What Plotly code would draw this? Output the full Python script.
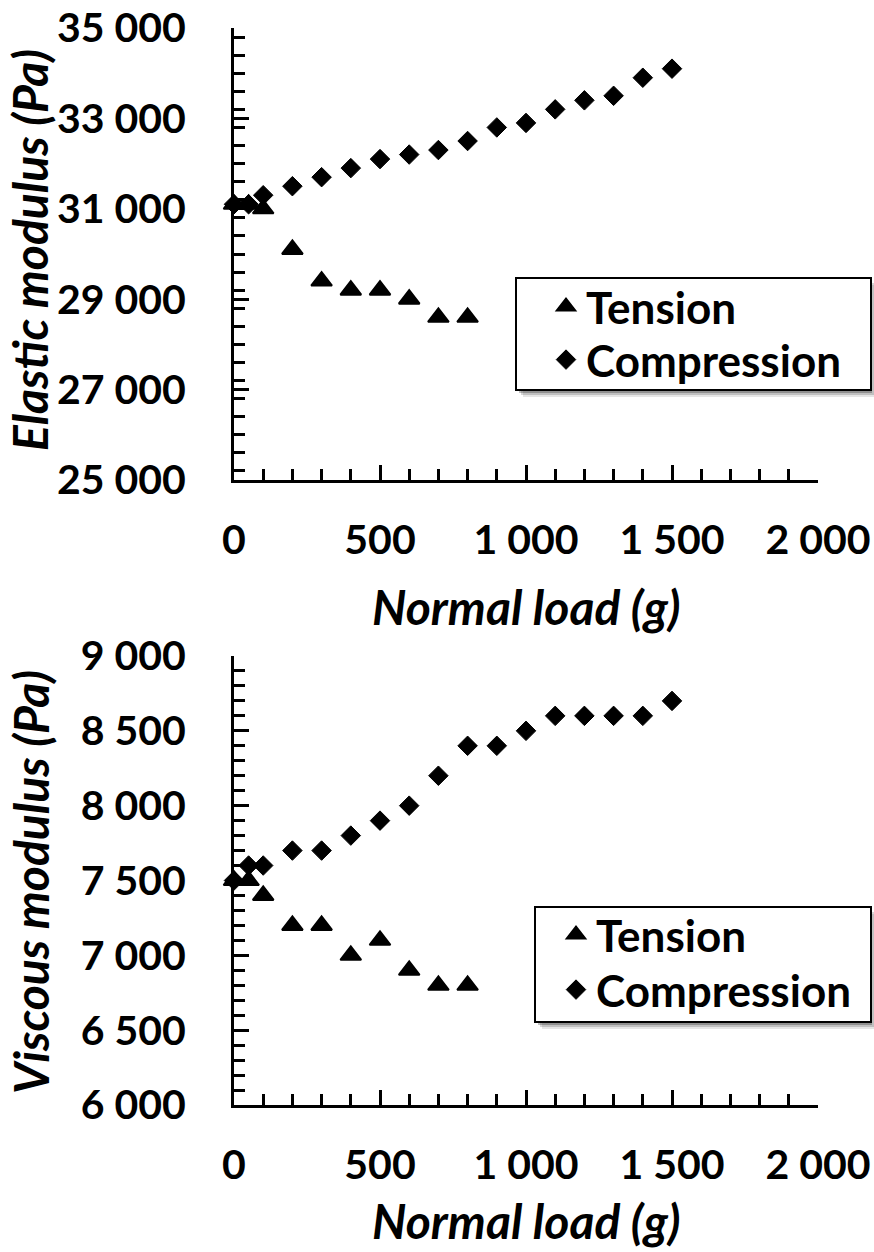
import plotly.graph_objects as go

# ---- data ----
load_tension = [0, 50, 100, 200, 300, 400, 500, 600, 700, 800]
load_compression = [0, 50, 100, 200, 300, 400, 500, 600, 700, 800, 900,
                    1000, 1100, 1200, 1300, 1400, 1500]
elastic_tension = [31100, 31100, 31000, 30100, 29400, 29200, 29200, 29000, 28600, 28600]
elastic_compression = [31100, 31100, 31300, 31500, 31700, 31900, 32100, 32200, 32300,
                       32500, 32800, 32900, 33200, 33400, 33500, 33900, 34100]
viscous_tension = [7500, 7500, 7400, 7200, 7200, 7000, 7100, 6900, 6800, 6800]
viscous_compression = [7500, 7600, 7600, 7700, 7700, 7800, 7900, 8000, 8200,
                       8400, 8400, 8500, 8600, 8600, 8600, 8600, 8700]
x_ticks = [0, 500, 1000, 1500, 2000]
elastic_ticks = [25000, 27000, 29000, 31000, 33000, 35000]
viscous_ticks = [6000, 6500, 7000, 7500, 8000, 8500, 9000]

W, H = 874, 1252
FONT = "Lato"
BLACK = "#000000"

def px_x(p):
    return p / W

def px_y(p):
    return 1 - p / H

fig = go.Figure()

tri = dict(symbol="triangle-up", size=18, color=BLACK, line=dict(color=BLACK, width=2))
dia = dict(symbol="diamond", size=15, color=BLACK, line=dict(color=BLACK, width=1))

fig.add_trace(go.Scatter(x=load_tension, y=elastic_tension, mode="markers", name="Tension",
                         marker=tri, xaxis="x", yaxis="y", legend="legend", cliponaxis=False))
fig.add_trace(go.Scatter(x=load_compression, y=elastic_compression, mode="markers", name="Compression",
                         marker=dia, xaxis="x", yaxis="y", legend="legend3", cliponaxis=False))
fig.add_trace(go.Scatter(x=load_tension, y=viscous_tension, mode="markers", name="Tension",
                         marker=tri, xaxis="x2", yaxis="y2", legend="legend2", cliponaxis=False))
fig.add_trace(go.Scatter(x=load_compression, y=viscous_compression, mode="markers", name="Compression",
                         marker=dia, xaxis="x2", yaxis="y2", legend="legend4", cliponaxis=False))

tickfont = dict(family=FONT, size=41, color=BLACK, weight="bold")

def xaxis_cfg(anchor):
    return dict(domain=[px_x(234), px_x(818)], anchor=anchor, range=[0, 2000], automargin=False,
                tickvals=x_ticks, tickformat=",d", showline=True, linecolor=BLACK, linewidth=3,
                ticks="inside", ticklen=15, tickwidth=3, tickcolor=BLACK,
                minor=dict(ticks="inside", ticklen=11, tickwidth=3, tickcolor=BLACK, dtick=100, showgrid=False),
                showgrid=False, zeroline=False, tickfont=tickfont, ticklabelstandoff=22)

def yaxis_cfg(anchor, dom, rng, tv, minor_dt):
    return dict(domain=dom, anchor=anchor, range=rng, tickvals=tv, tickformat=",d", automargin=False,
                showline=True, linecolor=BLACK, linewidth=3,
                ticks="inside", ticklen=15, tickwidth=3, tickcolor=BLACK,
                minor=dict(ticks="inside", ticklen=11, tickwidth=3, tickcolor=BLACK, dtick=minor_dt, showgrid=False),
                showgrid=False, zeroline=False, tickfont=tickfont, ticklabelstandoff=37)

legend_common = dict(bgcolor="rgba(0,0,0,0)", borderwidth=0, visible=True,
                     font=dict(family=FONT, size=44, color=BLACK, weight="bold"),
                     xanchor="left", yanchor="middle", tracegroupgap=0, itemsizing="trace")

# legend boxes (pixel coords): x0, y0, x1, y1
legend_boxes = [(516, 278, 871, 390), (535, 907, 871, 1022)]

fig.update_layout(
    width=W, height=H, margin=dict(l=0, r=0, t=0, b=0, autoexpand=False),
    paper_bgcolor="white", plot_bgcolor="white",
    separators=". ", showlegend=True,
    xaxis=xaxis_cfg("y"),
    yaxis=yaxis_cfg("x", [px_y(480), px_y(28)], [25000, 35000], elastic_ticks, 400),
    xaxis2=xaxis_cfg("y2"),
    yaxis2=yaxis_cfg("x2", [px_y(1105), px_y(656)], [6000, 9000], viscous_ticks, 100),
    legend=dict(x=px_x(546), y=px_y(307), **legend_common),
    legend3=dict(x=px_x(546), y=px_y(360), **legend_common),
    legend2=dict(x=px_x(556), y=px_y(935), **legend_common),
    legend4=dict(x=px_x(556), y=px_y(990), **legend_common),
)

titlefont = dict(family=FONT, size=48, color=BLACK, weight="bold", style="italic")
annots = [
    dict(text="Elastic modulus (Pa)", x=px_x(30), y=px_y(250), textangle=-90),
    dict(text="Viscous modulus (Pa)", x=px_x(30), y=px_y(882), textangle=-90),
    dict(text="Normal load (g)", x=px_x(526), y=px_y(606), textangle=0),
    dict(text="Normal load (g)", x=px_x(526), y=px_y(1220), textangle=0),
]
for a in annots:
    fig.add_annotation(xref="paper", yref="paper", showarrow=False, xanchor="center",
                       yanchor="middle", font=titlefont, **a)

# legend boxes with soft shadow
for (x0, y0, x1, y1) in legend_boxes:
    for k, op in [(7, 0.10), (5, 0.16), (3, 0.25)]:
        fig.add_shape(type="rect", xref="paper", yref="paper",
                      x0=px_x(x0 + k), x1=px_x(min(x1 + k - 2, W)), y0=px_y(y1 + k), y1=px_y(y0 + k),
                      line=dict(width=0), fillcolor="rgba(0,0,0,%s)" % op, layer="above")
    fig.add_shape(type="rect", xref="paper", yref="paper",
                  x0=px_x(x0), x1=px_x(x1), y0=px_y(y1), y1=px_y(y0),
                  line=dict(width=2, color=BLACK), fillcolor="white", layer="above")

fig.write_html("out.html", config={"displayModeBar": False},
               post_script="document.body.style.margin='0px';document.body.style.overflow='hidden';")
